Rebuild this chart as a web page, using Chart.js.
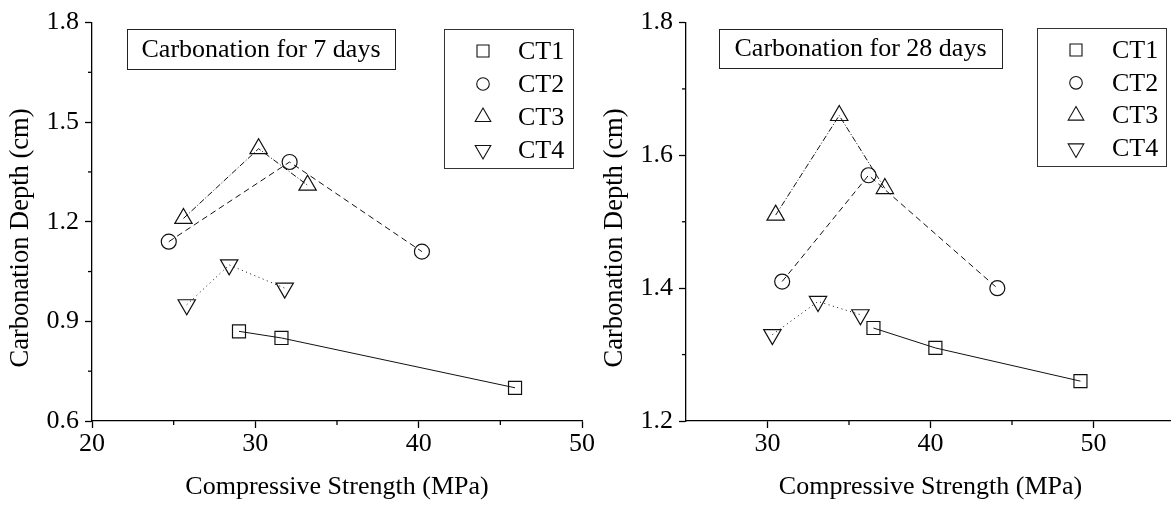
<!DOCTYPE html>
<html>
<head>
<meta charset="utf-8">
<script src="https://cdn.jsdelivr.net/npm/chart.js@4/dist/chart.umd.min.js"></script>
<style>
  html, body { margin: 0; padding: 0; background: #fff; overflow: hidden; width: 1171px; height: 507px; }
  canvas { position: absolute; top: 0; }
  #c7 { left: 0; }
  #c28 { left: 590px; }
</style>
</head>
<body>
<canvas id="c7" width="600" height="507"></canvas>
<canvas id="c28" width="620" height="507"></canvas>
<script>
const seriesNames = ['CT1', 'CT2', 'CT3', 'CT4'];

// carbonation for 7 days
const ct1x7 = [29.0, 31.6, 45.9], ct1y7 = [0.87, 0.85, 0.70];
const ct2x7 = [24.7, 32.1, 40.2], ct2y7 = [1.14, 1.38, 1.11];
const ct3x7 = [25.6, 30.2, 33.2], ct3y7 = [1.21, 1.42, 1.31];
const ct4x7 = [25.8, 28.4, 31.8], ct4y7 = [0.95, 1.07, 1.00];
const xTicks7 = [20, 30, 40, 50], xMinor7 = [25, 35, 45];
const yTicks7 = [0.6, 0.9, 1.2, 1.5, 1.8], yMinor7 = [0.75, 1.05, 1.35, 1.65];

// carbonation for 28 days
const ct1x28 = [36.5, 40.3, 49.2], ct1y28 = [1.34, 1.31, 1.26];
const ct2x28 = [30.9, 36.2, 44.1], ct2y28 = [1.41, 1.57, 1.40];
const ct3x28 = [30.5, 34.4, 37.2], ct3y28 = [1.51, 1.66, 1.55];
const ct4x28 = [30.3, 33.1, 35.7], ct4y28 = [1.33, 1.38, 1.36];
const xTicks28 = [30, 40, 50], xMinor28 = [35, 45];
const yTicks28 = [1.2, 1.4, 1.6, 1.8], yMinor28 = [1.3, 1.5, 1.7];

const FONT = "'Liberation Serif', 'Times New Roman', serif";
Chart.defaults.font.family = FONT;
Chart.defaults.color = '#000';

// marker + line style per series
const looks = [
  { pointStyle: 'rect',     r: 9.2, rot: 0,   dash: [] },
  { pointStyle: 'circle',   r: 7.5, rot: 0,   dash: [6, 4] },
  { pointStyle: 'triangle', r: 10,  rot: 0,   dash: [6, 2, 1, 2] },
  { pointStyle: 'triangle', r: 10,  rot: 180, dash: [1, 3.5] }
];

function pts(xs, ys) { return xs.map((x, i) => ({ x: x, y: ys[i] })); }

function makeSets(list) {
  return list.map((s, i) => ({
    label: seriesNames[i],
    data: pts(s[0], s[1]),
    showLine: true,
    borderColor: '#111',
    borderWidth: 1,
    borderDash: looks[i].dash,
    pointStyle: looks[i].pointStyle,
    pointRadius: looks[i].r,
    pointRotation: looks[i].rot,
    pointBorderColor: '#111',
    pointBorderWidth: 1.2,
    pointBackgroundColor: 'rgba(0,0,0,0)'
  }));
}

function markerPath(ctx, i, x, y, r) {
  ctx.beginPath();
  if (i === 0) {
    ctx.rect(x - r, y - r, 2 * r, 2 * r);
  } else if (i === 1) {
    ctx.arc(x, y, r, 0, Math.PI * 2);
  } else {
    const s = i === 2 ? 1 : -1;
    ctx.moveTo(x, y - s * r);
    ctx.lineTo(x + r * 0.866, y + s * r * 0.5);
    ctx.lineTo(x - r * 0.866, y + s * r * 0.5);
    ctx.closePath();
  }
  ctx.stroke();
}

// minor ticks, y title, note box and legend box
const decor = {
  id: 'decor',
  afterDraw(chart, args, o) {
    const ctx = chart.ctx, ca = chart.chartArea;
    const xs = chart.scales.x, ys = chart.scales.y;
    ctx.save();
    ctx.strokeStyle = '#000';
    ctx.lineWidth = 1.3;
    o.xMinor.forEach(v => {
      const p = xs.getPixelForValue(v);
      ctx.beginPath(); ctx.moveTo(p, ca.bottom); ctx.lineTo(p, ca.bottom + 4); ctx.stroke();
    });
    o.yMinor.forEach(v => {
      const p = ys.getPixelForValue(v);
      ctx.beginPath(); ctx.moveTo(ca.left, p); ctx.lineTo(ca.left - 4, p); ctx.stroke();
    });

    ctx.fillStyle = '#000';
    ctx.textAlign = 'center';
    ctx.textBaseline = 'middle';

    // y axis title (sits a bit below the axis middle in the original)
    ctx.save();
    ctx.font = '26.5px ' + FONT;
    ctx.translate(o.yTitle.x, o.yTitle.y);
    ctx.rotate(-Math.PI / 2);
    ctx.fillText('Carbonation Depth (cm)', 0, 0);
    ctx.restore();

    // note box
    const n = o.note;
    ctx.lineWidth = 1;
    ctx.strokeStyle = '#222';
    ctx.strokeRect(n.x + 0.5, n.y + 0.5, n.w, n.h);
    ctx.font = '26px ' + FONT;
    ctx.fillText(n.text, n.x + n.w / 2, n.y + n.h / 2 + 1);

    // legend
    const L = o.legend;
    ctx.strokeStyle = '#333';
    ctx.strokeRect(L.x + 0.5, L.y + 0.5, L.w, L.h);
    ctx.textAlign = 'left';
    chart.data.datasets.forEach((d, i) => {
      const y = L.rowY + i * L.step;
      ctx.strokeStyle = '#111';
      ctx.lineWidth = 1.1;
      markerPath(ctx, i, L.markX, y, [6, 6.3, 9, 9][i]);
      ctx.fillStyle = '#000';
      ctx.fillText(d.label, L.textX, y + 1);
    });
    ctx.restore();
  }
};

function makeChart(id, sets, xr, yr, xt, yt, xm, ym, yW, yTitle, padRight, note, legend) {
  return new Chart(document.getElementById(id), {
    type: 'scatter',
    data: { datasets: makeSets(sets) },
    options: {
      responsive: false,
      animation: false,
      layout: { padding: { left: 0, top: 22.5, right: padRight, bottom: 0 } },
      plugins: {
        legend: { display: false },
        tooltip: { enabled: false },
        decor: { xMinor: xm, yMinor: ym, yTitle: yTitle, note: note, legend: legend }
      },
      scales: {
        x: {
          type: 'linear', min: xr[0], max: xr[1],
          afterBuildTicks: s => { s.ticks = xt.map(v => ({ value: v })); },
          afterFit: s => { s.height = 86; },
          border: { color: '#000', width: 1.3 },
          grid: { drawOnChartArea: false, tickLength: 7, tickColor: '#000', tickWidth: 1.3 },
          ticks: { font: { size: 26 }, padding: 1, maxRotation: 0, callback: v => String(v) },
          title: { display: true, text: 'Compressive Strength (MPa)', font: { size: 26 }, padding: { top: 0, bottom: 4 } }
        },
        y: {
          type: 'linear', min: yr[0], max: yr[1],
          afterBuildTicks: s => { s.ticks = yt.map(v => ({ value: v })); },
          afterFit: s => { s.width = yW; },
          border: { color: '#000', width: 1.3 },
          grid: { drawOnChartArea: false, tickLength: 7, tickColor: '#000', tickWidth: 1.3 },
          ticks: { font: { size: 26 }, padding: 6, callback: v => Number(v).toFixed(1) },
          title: { display: false }
        }
      }
    },
    plugins: [decor]
  });
}

makeChart('c7',
  [[ct1x7, ct1y7], [ct2x7, ct2y7], [ct3x7, ct3y7], [ct4x7, ct4y7]],
  [20, 50], [0.6, 1.8], xTicks7, yTicks7, xMinor7, yMinor7, 92, { x: 21, y: 238 }, 18,
  { text: 'Carbonation for 7 days', x: 127, y: 29, w: 268, h: 40 },
  { x: 444, y: 29, w: 129, h: 139, markX: 483, textX: 518, rowY: 51, step: 33 });

makeChart('c28',
  [[ct1x28, ct1y28], [ct2x28, ct2y28], [ct3x28, ct3y28], [ct4x28, ct4y28]],
  [25, 55], [1.2, 1.8], xTicks28, yTicks28, xMinor28, yMinor28, 96, { x: 25.5, y: 238 }, 35,
  { text: 'Carbonation for 28 days', x: 129, y: 29, w: 283, h: 39 },
  { x: 447, y: 28, w: 129, h: 138, markX: 486, textX: 522, rowY: 50, step: 32.8 });
</script>
</body>
</html>
